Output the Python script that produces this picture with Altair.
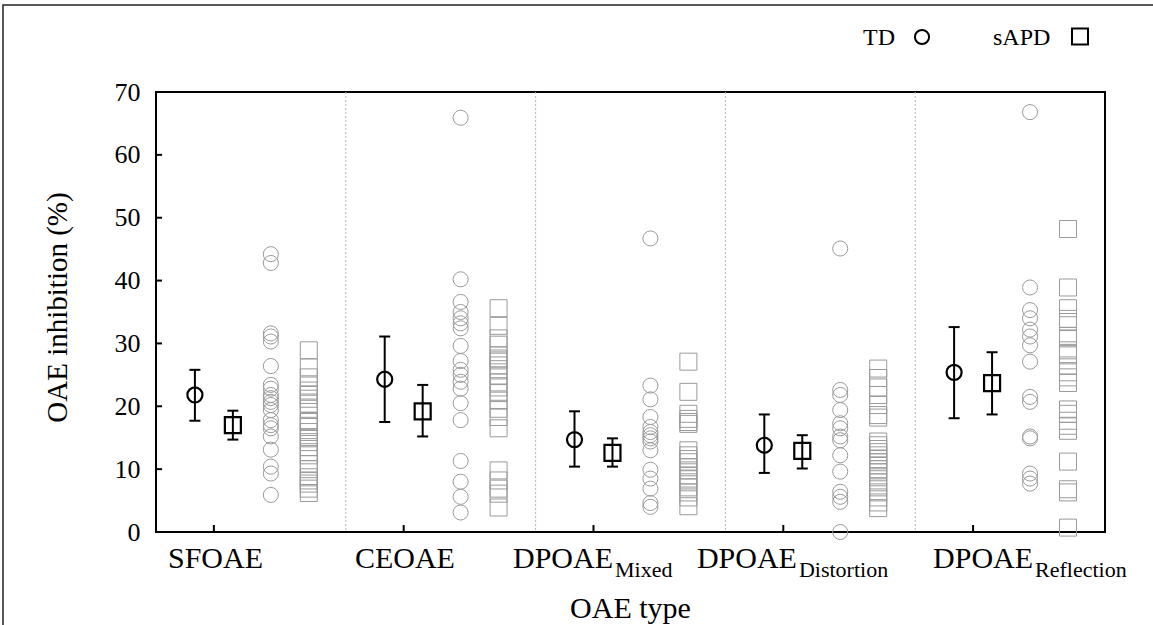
import altair as alt
import pandas as pd

# ---------------- data ----------------
categories = ["SFOAE", "CEOAE", "DPOAE_Mixed", "DPOAE_Distortion", "DPOAE_Reflection"]
label_main = ["SFOAE", "CEOAE", "DPOAE", "DPOAE", "DPOAE"]
label_sub = ["", "", "Mixed", "Distortion", "Reflection"]

td_mean = [21.8, 24.3, 14.7, 13.8, 25.4]
td_lo = [17.7, 17.5, 10.4, 9.4, 18.1]
td_hi = [25.8, 31.1, 19.2, 18.7, 32.6]
sapd_mean = [17.0, 19.2, 12.6, 12.9, 23.7]
sapd_lo = [14.7, 15.2, 10.4, 10.1, 18.7]
sapd_hi = [19.3, 23.4, 14.9, 15.4, 28.6]

td_sfoae = [44.2, 42.8, 31.6, 31.1, 30.3, 26.4, 23.4, 22.8, 21.8, 21.3, 20.7, 20.2, 19.4, 17.8, 17.0, 16.5, 15.2, 13.1, 10.4, 9.3, 5.9]
td_ceoae = [65.9, 40.2, 36.6, 35.0, 34.0, 33.2, 32.4, 29.6, 27.2, 25.8, 25.0, 23.9, 22.8, 20.5, 17.8, 11.3, 8.0, 5.6, 3.1]
td_mixed = [46.7, 23.3, 21.1, 18.3, 16.7, 15.9, 15.4, 14.9, 14.4, 13.0, 9.9, 8.5, 6.9, 4.6, 4.0]
td_distortion = [45.1, 22.6, 21.8, 19.4, 17.3, 16.5, 15.2, 14.6, 12.2, 9.6, 6.4, 5.6, 4.8, 0.0]
td_reflection = [66.8, 38.9, 35.3, 34.0, 32.2, 31.1, 29.7, 27.1, 21.5, 20.7, 15.2, 14.9, 9.3, 8.5, 7.7]

sapd_sfoae = [28.9, 26.2, 24.6, 23.3, 22.5, 21.8, 21.2, 20.4, 19.6, 17.7, 17.5, 16.7, 15.9, 15.1, 14.3, 13.5, 12.7, 12.2, 10.8, 10.0, 8.7, 8.2, 7.7, 6.9, 6.2]
sapd_ceoae = [35.6, 32.8, 30.8, 29.8, 28.1, 27.6, 27.3, 26.5, 25.9, 24.9, 23.8, 23.0, 22.1, 20.9, 19.6, 18.3, 16.5, 9.8, 8.2, 6.9, 6.1, 3.9]
sapd_mixed = [27.1, 22.3, 18.8, 18.0, 17.5, 17.2, 13.0, 12.2, 11.6, 11.1, 10.3, 9.8, 9.0, 8.5, 7.9, 7.1, 6.3, 5.5, 4.1]
sapd_distortion = [26.0, 24.5, 23.0, 21.8, 20.2, 18.6, 18.2, 14.4, 13.8, 13.2, 12.7, 12.2, 11.6, 11.1, 10.6, 10.0, 9.5, 8.7, 7.9, 7.1, 6.3, 5.5, 4.7, 3.8]
sapd_reflection = [48.2, 38.9, 35.6, 33.9, 33.4, 31.2, 30.8, 28.9, 28.3, 26.5, 25.4, 24.6, 23.7, 19.5, 18.8, 17.7, 16.9, 16.1, 11.2, 6.8, 6.3, 0.7]

y_ticks = [0, 10, 20, 30, 40, 50, 60, 70]

td_individual = [td_sfoae, td_ceoae, td_mixed, td_distortion, td_reflection]
sapd_individual = [sapd_sfoae, sapd_ceoae, sapd_mixed, sapd_distortion, sapd_reflection]

# ---------------- layout helpers (group slot offsets) ----------------
OFF_TD_MEAN, OFF_SAPD_MEAN, OFF_TD_IND, OFF_SAPD_IND, OFF_TICK = 0.205, 0.405, 0.605, 0.805, 0.305
label_left = [0.063, 1.048, 1.881, 2.850, 4.094]  # left edge of label text, in group units

FONT = "Liberation Serif"
GRAY = "#9a9a9a"
xs = alt.Scale(domain=[0, 5], nice=False, zero=False)
ys = alt.Scale(domain=[0, 70], nice=False)

ind_rows = []
for i, c in enumerate(categories):
    for v in td_individual[i]:
        ind_rows.append({"x": i + OFF_TD_IND, "v": v, "grp": "TD"})
    for v in sapd_individual[i]:
        ind_rows.append({"x": i + OFF_SAPD_IND, "v": v, "grp": "sAPD"})
ind = pd.DataFrame(ind_rows)

mean_rows = []
for i, c in enumerate(categories):
    mean_rows.append({"x": i + OFF_TD_MEAN, "m": td_mean[i], "lo": td_lo[i], "hi": td_hi[i], "grp": "TD"})
    mean_rows.append({"x": i + OFF_SAPD_MEAN, "m": sapd_mean[i], "lo": sapd_lo[i], "hi": sapd_hi[i], "grp": "sAPD"})
means = pd.DataFrame(mean_rows)

seps = pd.DataFrame({"x": list(range(1, len(categories)))})
xt = pd.DataFrame({"x": [i + OFF_TICK for i in range(len(categories))]})
yt = pd.DataFrame({"v": y_ticks})
labels = pd.DataFrame({"x": label_left, "main": label_main, "sub": label_sub})
one = pd.DataFrame({"a": [0]})

X = alt.X("x:Q", scale=xs, axis=None)
Y_AXIS = alt.Axis(
    values=y_ticks, ticks=False, domain=False, grid=False, labelPadding=16,
    labelFont=FONT, labelFontSize=26, labelColor="black",
    title="OAE inhibition (%)", titleFont=FONT, titleFontSize=29, titleFontWeight="normal",
    titleColor="black", titleX=-90, titleY=215, titleAngle=-90, titleBaseline="alphabetic",
    titleAlign="center")


def Yq(field):
    return alt.Y(field, scale=ys, axis=Y_AXIS)


sep_layer = alt.Chart(seps).mark_rule(color="#b5b5b5", strokeDash=[2, 2], strokeWidth=1).encode(x=X)

ytick_layer = alt.Chart(yt).mark_rule(color="black", strokeWidth=2).encode(
    y=Yq("v:Q"), x=alt.value(0), x2=alt.value(6))

xtick_layer = alt.Chart(xt).mark_rule(color="black", strokeWidth=2).encode(
    x=X, y=alt.value(440), y2=alt.value(433))

td_ind_layer = alt.Chart(ind).transform_filter(alt.datum.grp == "TD").mark_point(
    shape="circle", filled=False, size=227, color=GRAY, strokeWidth=1, opacity=1).encode(
    x=X, y=Yq("v:Q"))
sapd_ind_layer = alt.Chart(ind).transform_filter(alt.datum.grp == "sAPD").mark_point(
    shape="square", filled=False, size=289, color=GRAY, strokeWidth=1, opacity=1).encode(
    x=X, y=Yq("v:Q"))

err_layer = alt.Chart(means).mark_rule(color="black", strokeWidth=2).encode(
    x=X, y=Yq("lo:Q"), y2="hi:Q")
cap_shape = "M-1,0L1,0"
cap_lo = alt.Chart(means).mark_point(shape=cap_shape, size=121, color="black", strokeWidth=2, opacity=1).encode(
    x=X, y=Yq("lo:Q"))
cap_hi = alt.Chart(means).mark_point(shape=cap_shape, size=121, color="black", strokeWidth=2, opacity=1).encode(
    x=X, y=Yq("hi:Q"))

td_mean_layer = alt.Chart(means).transform_filter(alt.datum.grp == "TD").mark_point(
    shape="circle", filled=False, size=227, color="black", strokeWidth=2.2, opacity=1).encode(
    x=X, y=Yq("m:Q"))
sapd_mean_layer = alt.Chart(means).transform_filter(alt.datum.grp == "sAPD").mark_point(
    shape="square", filled=False, size=256, color="black", strokeWidth=2.2, opacity=1).encode(
    x=X, y=Yq("m:Q"))

lab_main = alt.Chart(labels).mark_text(font=FONT, fontSize=30, align="left", baseline="alphabetic",
                                       color="black").encode(x=X, y=alt.value(476), text="main:N")
lab_sub = alt.Chart(labels).mark_text(font=FONT, fontSize=22, align="left", baseline="alphabetic",
                                      color="black", dx=102).encode(x=X, y=alt.value(485), text="sub:N")
x_title = alt.Chart(one).mark_text(font=FONT, fontSize=30, align="center", baseline="alphabetic",
                                   color="black", text="OAE type").encode(x=alt.value(474.5), y=alt.value(526))

leg_td_t = alt.Chart(one).mark_text(font=FONT, fontSize=24, align="left", baseline="alphabetic",
                                    color="black", text="TD").encode(x=alt.value(707), y=alt.value(-47))
leg_sapd_t = alt.Chart(one).mark_text(font=FONT, fontSize=24, align="left", baseline="alphabetic",
                                      color="black", text="sAPD").encode(x=alt.value(837), y=alt.value(-47))
leg_td_s = alt.Chart(one).mark_point(shape="circle", filled=False, size=200, color="black", strokeWidth=2,
                                     opacity=1).encode(x=alt.value(766), y=alt.value(-55))
leg_sapd_s = alt.Chart(one).mark_point(shape="square", filled=False, size=256, color="black", strokeWidth=2,
                                       opacity=1).encode(x=alt.value(924), y=alt.value(-55.5))

outer = alt.Chart(one).mark_rect(fillOpacity=0, stroke="#222222", strokeWidth=1.5).encode(
    x=alt.value(-153), x2=alt.value(1100), y=alt.value(-87), y2=alt.value(600))

chart = alt.layer(
    outer, sep_layer, ytick_layer, xtick_layer, td_ind_layer, sapd_ind_layer,
    err_layer, cap_lo, cap_hi, td_mean_layer, sapd_mean_layer,
    lab_main, lab_sub, x_title, leg_td_t, leg_sapd_t, leg_td_s, leg_sapd_s
).properties(
    width=949, height=440,
    autosize=alt.AutoSizeParams(type="none"),
    padding={"left": 156, "top": 92, "right": 48, "bottom": 93},
    background="white",
).configure(font=FONT).configure_view(stroke="black", strokeWidth=2).configure_axis(
    labelFont=FONT, titleFont=FONT, labelFontSize=26, titleFontSize=29, titleFontWeight="normal",
    labelColor="black", titleColor="black")

chart.save("out.html", embed_options={"renderer": "svg", "actions": False})
